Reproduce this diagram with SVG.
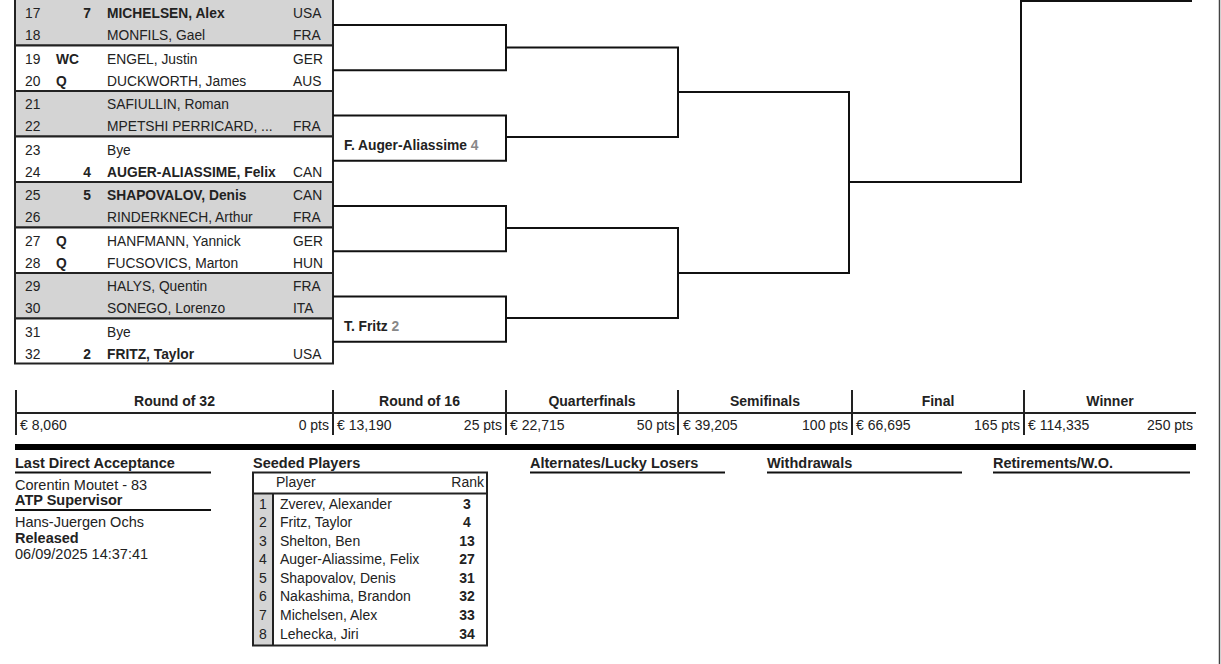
<svg xmlns="http://www.w3.org/2000/svg" width="1221" height="664" viewBox="0 0 1221 664">
<style>
text{font-family:"Liberation Sans",Arial,sans-serif;fill:#222;}
.p{font-size:13.8px;}
.b{font-weight:bold;}
.gray{fill:#d4d4d4;stroke:#222;stroke-width:2;}
.white{fill:#fff;stroke:#222;stroke-width:2;}
.ln{stroke:#111;stroke-width:2;fill:none;}
.pz{font-size:14px;}
.bt{font-size:14.5px;}
.st{font-size:14px;}
.sd{fill:#888;}
.r{text-anchor:end;}
.m{text-anchor:middle;}
</style>
<rect x="0" y="0" width="1221" height="664" fill="#fff"/>
<line x1="1219.5" y1="0" x2="1219.5" y2="664" stroke="#444" stroke-width="1.5"/>

<g id="draw">
<g id="m17" class="p">
<rect class="gray" x="15" y="-1" width="318" height="46.5"/>
<text x="25" y="18">17</text><text class="b r" x="91" y="18">7</text><text class="b" x="107" y="18">MICHELSEN, Alex</text><text x="293" y="18">USA</text>
<text x="25" y="40">18</text><text x="107" y="40">MONFILS, Gael</text><text x="293" y="40">FRA</text>
</g>
<g id="m19" class="p">
<rect class="white" x="15" y="45.5" width="318" height="45.5"/>
<text x="25" y="63.5">19</text><text class="b" x="56" y="63.5">WC</text><text x="107" y="63.5">ENGEL, Justin</text><text x="293" y="63.5">GER</text>
<text x="25" y="85.5">20</text><text class="b" x="56" y="85.5">Q</text><text x="107" y="85.5">DUCKWORTH, James</text><text x="293" y="85.5">AUS</text>
</g>
<g id="m21" class="p">
<rect class="gray" x="15" y="91" width="318" height="45.5"/>
<text x="25" y="109">21</text><text x="107" y="109">SAFIULLIN, Roman</text>
<text x="25" y="131">22</text><text x="107" y="131">MPETSHI PERRICARD, ...</text><text x="293" y="131">FRA</text>
</g>
<g id="m23" class="p">
<rect class="white" x="15" y="136.5" width="318" height="45.5"/>
<text x="25" y="154.5">23</text><text x="107" y="154.5">Bye</text>
<text x="25" y="176.5">24</text><text class="b r" x="91" y="176.5">4</text><text class="b" x="107" y="176.5">AUGER-ALIASSIME, Felix</text><text x="293" y="176.5">CAN</text>
</g>
<g id="m25" class="p">
<rect class="gray" x="15" y="182" width="318" height="45.5"/>
<text x="25" y="200">25</text><text class="b r" x="91" y="200">5</text><text class="b" x="107" y="200">SHAPOVALOV, Denis</text><text x="293" y="200">CAN</text>
<text x="25" y="222">26</text><text x="107" y="222">RINDERKNECH, Arthur</text><text x="293" y="222">FRA</text>
</g>
<g id="m27" class="p">
<rect class="white" x="15" y="227.5" width="318" height="45.5"/>
<text x="25" y="245.5">27</text><text class="b" x="56" y="245.5">Q</text><text x="107" y="245.5">HANFMANN, Yannick</text><text x="293" y="245.5">GER</text>
<text x="25" y="267.5">28</text><text class="b" x="56" y="267.5">Q</text><text x="107" y="267.5">FUCSOVICS, Marton</text><text x="293" y="267.5">HUN</text>
</g>
<g id="m29" class="p">
<rect class="gray" x="15" y="273" width="318" height="45.5"/>
<text x="25" y="291">29</text><text x="107" y="291">HALYS, Quentin</text><text x="293" y="291">FRA</text>
<text x="25" y="313">30</text><text x="107" y="313">SONEGO, Lorenzo</text><text x="293" y="313">ITA</text>
</g>
<g id="m31" class="p">
<rect class="white" x="15" y="318.5" width="318" height="45"/>
<text x="25" y="336.5">31</text><text x="107" y="336.5">Bye</text>
<text x="25" y="358.5">32</text><text class="b r" x="91" y="358.5">2</text><text class="b" x="107" y="358.5">FRITZ, Taylor</text><text x="293" y="358.5">USA</text>
</g>
</g>

<g id="connectors" class="ln">
<path d="M333 25H506V70.3H333"/>
<path d="M333 115.6H506V160.8H333"/>
<path d="M333 206H506V251.3H333"/>
<path d="M333 296.5H506V341.7H333"/>
<path d="M506 47.5H678V137H506"/>
<path d="M506 228H678V318H506"/>
<path d="M678 92H849V273H678"/>
<path d="M849 182H1021V1H1192"/>
</g>

<g id="w24" class="p"><text class="b" x="344" y="150">F. Auger-Aliassime <tspan class="sd">4</tspan></text></g>
<g id="w32" class="p"><text class="b" x="344" y="331">T. Fritz <tspan class="sd">2</tspan></text></g>

<g id="prize" class="pz">
<g stroke="#222" stroke-width="2">
<line x1="16" y1="390" x2="16" y2="435"/>
<line x1="333" y1="390" x2="333" y2="435"/>
<line x1="506" y1="390" x2="506" y2="435"/>
<line x1="678" y1="390" x2="678" y2="435"/>
<line x1="852" y1="390" x2="852" y2="435"/>
<line x1="1024" y1="390" x2="1024" y2="435"/>
<line x1="15" y1="413" x2="1196" y2="413"/>
</g>
<rect x="15" y="444" width="1181" height="6" fill="#000"/>
<text class="b m" x="174.5" y="406">Round of 32</text>
<text class="b m" x="419.5" y="406">Round of 16</text>
<text class="b m" x="592" y="406">Quarterfinals</text>
<text class="b m" x="765" y="406">Semifinals</text>
<text class="b m" x="938" y="406">Final</text>
<text class="b m" x="1110" y="406">Winner</text>
<text x="20" y="430">€ 8,060</text><text class="r" x="329" y="430">0 pts</text>
<text x="337" y="430">€ 13,190</text><text class="r" x="502" y="430">25 pts</text>
<text x="510" y="430">€ 22,715</text><text class="r" x="675" y="430">50 pts</text>
<text x="683" y="430">€ 39,205</text><text class="r" x="848" y="430">100 pts</text>
<text x="856" y="430">€ 66,695</text><text class="r" x="1020" y="430">165 pts</text>
<text x="1028" y="430">€ 114,335</text><text class="r" x="1193" y="430">250 pts</text>
</g>

<g id="info" class="bt">
<g stroke="#111" stroke-width="2">
<line x1="15" y1="472.5" x2="211" y2="472.5"/>
<line x1="15" y1="510" x2="211" y2="510"/>
<line x1="530" y1="472.5" x2="725" y2="472.5"/>
<line x1="767" y1="472.5" x2="962" y2="472.5"/>
<line x1="993" y1="472.5" x2="1190" y2="472.5"/>
</g>
<text class="b" x="15" y="468">Last Direct Acceptance</text>
<text x="15" y="490">Corentin Moutet - 83</text>
<text class="b" x="15" y="505">ATP Supervisor</text>
<text x="15" y="527">Hans-Juergen Ochs</text>
<text class="b" x="15" y="543">Released</text>
<text x="15" y="559">06/09/2025 14:37:41</text>
<text class="b" x="530" y="468">Alternates/Lucky Losers</text>
<text class="b" x="767" y="468">Withdrawals</text>
<text class="b" x="993" y="468">Retirements/W.O.</text>
</g>

<g id="seeds" class="st">
<text class="b bt" x="253" y="468">Seeded Players</text>
<rect x="253" y="493.5" width="20" height="152" fill="#d4d4d4"/>
<rect x="253" y="472.5" width="234" height="173" fill="none" stroke="#222" stroke-width="2"/>
<line x1="253" y1="493.5" x2="487" y2="493.5" stroke="#222" stroke-width="2"/>
<line x1="273" y1="493.5" x2="273" y2="645.5" stroke="#222" stroke-width="2"/>
<text x="276" y="487">Player</text><text class="r" x="484" y="487">Rank</text>
<text class="m" x="263" y="508.5">1</text><text x="280" y="508.5">Zverev, Alexander</text><text class="b m" x="467" y="508.5">3</text>
<text class="m" x="263" y="527">2</text><text x="280" y="527">Fritz, Taylor</text><text class="b m" x="467" y="527">4</text>
<text class="m" x="263" y="545.5">3</text><text x="280" y="545.5">Shelton, Ben</text><text class="b m" x="467" y="545.5">13</text>
<text class="m" x="263" y="564">4</text><text x="280" y="564">Auger-Aliassime, Felix</text><text class="b m" x="467" y="564">27</text>
<text class="m" x="263" y="582.5">5</text><text x="280" y="582.5">Shapovalov, Denis</text><text class="b m" x="467" y="582.5">31</text>
<text class="m" x="263" y="601">6</text><text x="280" y="601">Nakashima, Brandon</text><text class="b m" x="467" y="601">32</text>
<text class="m" x="263" y="619.5">7</text><text x="280" y="619.5">Michelsen, Alex</text><text class="b m" x="467" y="619.5">33</text>
<text class="m" x="263" y="638.5">8</text><text x="280" y="638.5">Lehecka, Jiri</text><text class="b m" x="467" y="638.5">34</text>
</g>
</svg>
